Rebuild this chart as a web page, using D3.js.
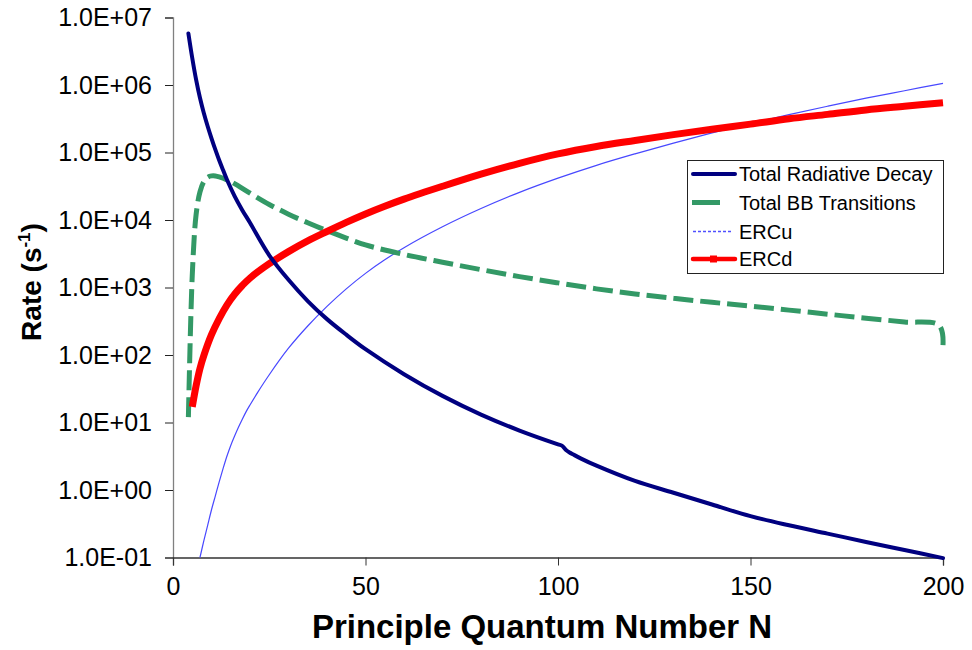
<!DOCTYPE html>
<html>
<head>
<meta charset="utf-8">
<script src="https://cdn.jsdelivr.net/npm/d3@7"></script>
<style>
  html, body { margin: 0; padding: 0; background: #fff; }
  svg { display: block; font-family: "Liberation Sans", Arial, Helvetica, sans-serif; }
</style>
</head>
<body>
<svg id="chart" width="972" height="650"></svg>
<script>
// Total radiative decay rate vs principal quantum number
const radN = [4,5,6,7,8,9,10,11,12,13,14,16,18,20,25,30,35,40,45,50,60,70,80,90,100,101,102,103,104,106,110,120,130,140,150,160,170,180,190,200];
const radV = [5.8e6,2.51e6,1.2e6,6.46e5,3.85e5,2.45e5,1.62e5,1.1e5,7.67e4,5.5e4,3.98e4,2.26e4,1.4e4,9.1e3,3.0e3,1.3e3,6.3e2,3.4e2,2.0e2,1.22e2,52,24.8,13.1,7.6,4.75,4.55,3.95,3.6,3.35,2.92,2.29,1.36,0.91,0.61,0.41,0.30,0.226,0.17,0.129,0.098];

// Total bound-bound transition rate
const bbN = [4,5,6,7,8,9,10,11,12,15,20,25,30,35,40,45,50,60,70,80,90,100,110,120,130,140,150,160,170,180,190,199,200];
const bbV = [12,1500,1.2e4,2.6e4,3.7e4,4.3e4,4.5e4,4.5e4,4.35e4,3.7e4,2.5e4,1.7e4,1.22e4,9.1e3,6.95e3,5.4e3,4.27e3,3.09e3,2.37e3,1.84e3,1.45e3,1.17e3,955,804,692,603,531,462,403,351,309,275,140];

// Electron rate coefficient, upward
const ercuN = [7,8,9,10,11,12,13,14,15,16,17,18,19,20,22,25,30,35,40,45,50,55,60,70,80,90,100,110,120,130,140,150,160,170,180,190,200];
const ercuV = [0.1,0.176,0.30,0.51,0.82,1.32,2.07,3.16,4.57,6.3,8.5,11.2,14.5,18.2,28,51,126,269,525,955,1620,2570,3890,7940,1.48e4,2.57e4,4.17e4,6.46e4,9.55e4,1.38e5,1.95e5,2.69e5,3.63e5,4.84e5,6.38e5,8.22e5,1.06e6];

// Electron rate coefficient, downward
const ercdN = [5,6,7,8,10,12,14,16,18,20,25,30,35,40,45,50,55,60,70,80,90,100,110,120,130,140,150,160,170,180,190,200];
const ercdV = [17,35,63,98,200,347,550,794,1070,1380,2250,3400,4900,6760,9220,1.23e4,1.6e4,2.04e4,3.16e4,4.79e4,6.92e4,9.55e4,1.23e5,1.51e5,1.84e5,2.21e5,2.63e5,3.16e5,3.67e5,4.27e5,4.84e5,5.47e5];

// Axis ticks
const xTicks = [0,50,100,150,200];
const yTicks = [1e-1,1e0,1e1,1e2,1e3,1e4,1e5,1e6,1e7];
const yTickLabels = ["1.0E-01","1.0E+00","1.0E+01","1.0E+02","1.0E+03","1.0E+04","1.0E+05","1.0E+06","1.0E+07"];

const seriesNames = ["Total Radiative Decay","Total BB Transitions","ERCu","ERCd"];

const svg = d3.select("#chart");
svg.append("rect").attr("width", 972).attr("height", 650).attr("fill", "#fff");

const x = d3.scaleLinear().domain([0, 200]).range([173, 943]);
const y = d3.scaleLog().domain([1e-1, 1e7]).range([557.5, 17.5]);

// Y axis
const yAxis = svg.append("g").attr("transform", "translate(173,0)")
  .call(d3.axisLeft(y).tickValues(yTicks).tickSize(8).tickPadding(13)
        .tickFormat((d, i) => yTickLabels[i]));
yAxis.select(".domain").attr("stroke", "#808080").attr("stroke-width", 1.3);
yAxis.selectAll(".tick line").attr("stroke", "#222");
yAxis.selectAll(".tick text").attr("font-size", 25).attr("fill", "#000")
  .attr("font-family", "'Liberation Sans', Arial, sans-serif");

// X axis
const xAxis = svg.append("g").attr("transform", "translate(0,557.5)")
  .call(d3.axisBottom(x).tickValues(xTicks).tickSize(8).tickPadding(12)
        .tickFormat(d3.format("d")));
xAxis.select(".domain").attr("stroke", "#333").attr("stroke-width", 1.3);
xAxis.selectAll(".tick line").attr("stroke", "#333");
xAxis.selectAll(".tick text").attr("font-size", 25).attr("fill", "#000")
  .attr("font-family", "'Liberation Sans', Arial, sans-serif");

// Axis titles
svg.append("text")
  .attr("x", 542).attr("y", 638)
  .attr("text-anchor", "middle")
  .attr("font-size", 33).attr("font-weight", "bold")
  .text("Principle Quantum Number N");

const yt = svg.append("text")
  .attr("transform", "translate(41,282) rotate(-90)")
  .attr("text-anchor", "middle")
  .attr("font-size", 28).attr("font-weight", "bold");
yt.append("tspan").text("Rate (s");
yt.append("tspan").attr("font-size", 17).attr("dy", -11).text("-1");
yt.append("tspan").attr("dy", 11).text(")");

// Curves
const line = d3.line()
  .x(d => x(d[0]))
  .y(d => y(d[1]))
  .curve(d3.curveCatmullRom.alpha(0.5));

const zip = (a, b) => a.map((v, i) => [v, b[i]]);

const plot = svg.append("g");

plot.append("path").datum(zip(ercuN, ercuV))
  .attr("d", line).attr("fill", "none")
  .attr("stroke", "#4848ff").attr("stroke-width", 1.2);

plot.append("path").datum(zip(bbN, bbV))
  .attr("d", line).attr("fill", "none")
  .attr("stroke", "#339966").attr("stroke-width", 5)
  .attr("stroke-dasharray", "20,7");

plot.append("path").datum(zip(ercdN, ercdV))
  .attr("d", line).attr("fill", "none")
  .attr("stroke", "#ff0000").attr("stroke-width", 7);

plot.append("path").datum(zip(radN, radV))
  .attr("d", line).attr("fill", "none")
  .attr("stroke", "#000080").attr("stroke-width", 4)
  .attr("stroke-linecap", "round");

// Legend
const lg = svg.append("g");
lg.append("rect").attr("x", 687.5).attr("y", 160.5).attr("width", 256).attr("height", 113)
  .attr("fill", "#fff").attr("stroke", "#222").attr("stroke-width", 1);

const rowY = [174, 202.5, 231.5, 259];
lg.append("line").attr("x1", 693).attr("x2", 735).attr("y1", rowY[0]).attr("y2", rowY[0])
  .attr("stroke", "#000080").attr("stroke-width", 4).attr("stroke-linecap", "round");
lg.append("line").attr("x1", 692).attr("x2", 720).attr("y1", rowY[1]).attr("y2", rowY[1])
  .attr("stroke", "#339966").attr("stroke-width", 5);
lg.append("line").attr("x1", 693).attr("x2", 733).attr("y1", rowY[2]).attr("y2", rowY[2])
  .attr("stroke", "#5050ff").attr("stroke-width", 1.5).attr("stroke-dasharray", "3,2");
lg.append("line").attr("x1", 693).attr("x2", 735).attr("y1", rowY[3]).attr("y2", rowY[3])
  .attr("stroke", "#ff0000").attr("stroke-width", 4.5).attr("stroke-linecap", "round");
lg.append("rect").attr("x", 710).attr("y", rowY[3] - 3.5).attr("width", 7).attr("height", 7)
  .attr("fill", "#ff0000");

lg.selectAll("text.lab").data(seriesNames).enter().append("text")
  .attr("class", "lab")
  .attr("x", 739).attr("y", (d, i) => rowY[i] + 7)
  .attr("font-size", 20).attr("fill", "#000")
  .text(d => d);
</script>
</body>
</html>
